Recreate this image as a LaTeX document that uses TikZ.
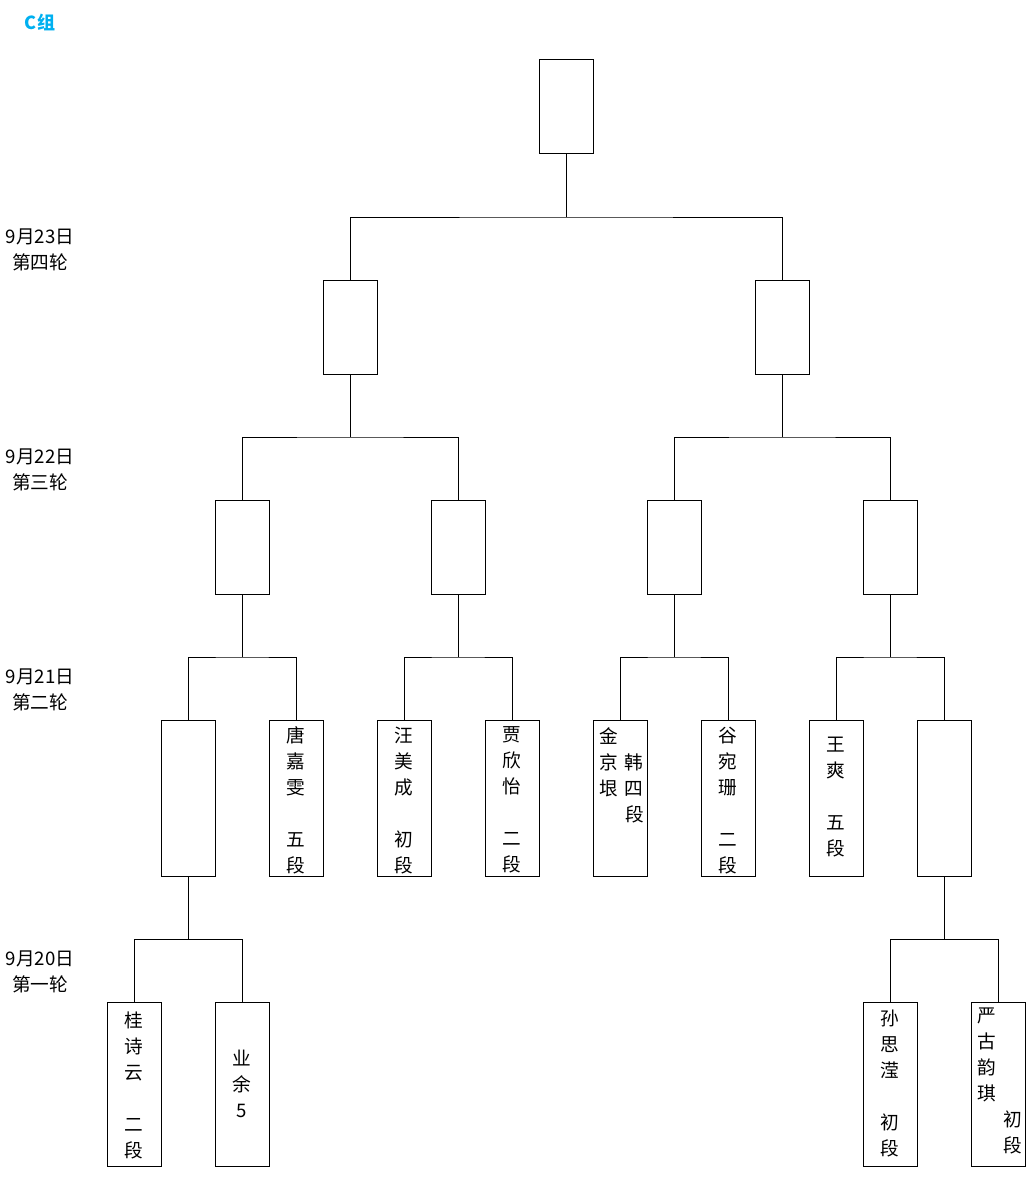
\documentclass[tikz,border=0pt]{standalone}
\usepackage{fontspec}
\newfontfamily\cjk{Noto Sans CJK SC}
\usepackage{tikz}
\usetikzlibrary{positioning}
\definecolor{groupblue}{HTML}{00B0F0}

\begin{document}
\begin{tikzpicture}[x=0.75pt,y=-0.75pt,line width=0.75pt,
  box/.style={draw,inner sep=0pt,minimum width=40.5pt},
  winbox/.style={box,minimum height=70.5pt},
  rtwo/.style={box,minimum height=117pt},
  rone/.style={box,minimum height=123pt},
  player/.style={font=\cjk\fontsize{14}{19.5}\selectfont,inner sep=0pt,align=center},
  datelbl/.style={font=\cjk\fontsize{14}{19.5}\selectfont,inner sep=0pt,align=center}]
\useasboundingbox (0,0) rectangle (1035,1177);
\node[font=\cjk\bfseries\fontsize{13.5}{16}\selectfont,text=groupblue,inner sep=0pt] (grp) at (40,22) {C组};
% dates
\node[datelbl] (d4) at (40,250) {9月23日\\第四轮};
\node[datelbl] (d3) at (40,470) {9月22日\\第三轮};
\node[datelbl] (d2) at (40,690) {9月21日\\第二轮};
\node[datelbl] (d1) at (40,972) {9月20日\\第一轮};
% boxes
\node[winbox] (final) at (566,107) {};
\node[winbox] (s1) at (350,327) {};
\node[winbox] (s2) at (782,327) {};
\foreach \n/\x in {1/242,2/458,3/674,4/890}
  \node[winbox] (q\n) at (\x,547) {};
\foreach \n/\x in {1/188,2/296,3/404,4/512,5/620,6/728,7/836,8/944}
  \node[rtwo] (r\n) at (\x,798) {};
\foreach \n/\x in {1/134,2/242,3/890,4/998}
  \node[rone] (f\n) at (\x,1084) {};
% names
\node[player,below=5pt of r2.north] (p2) {唐\\嘉\\雯\\~\\五\\段};
\node[player,below=5pt of r3.north] (p3) {汪\\美\\成\\~\\初\\段};
\node[player,below=5pt of r4.north] (p4) {贾\\欣\\怡\\~\\二\\段};
\node[player,align=left,below right=6pt and 4.5pt of r5.north west] (p5) {金\\京\hspace{5.5pt}韩\\垠\hspace{5.5pt}四\\\hphantom{垠}\hspace{5.5pt}段};
\node[player,below=5pt of r6.north] (p6) {谷\\宛\\珊\\~\\二\\段};
\node[player,below=13pt of r7.north] (p7) {王\\爽\\~\\五\\段};
\node[player,below=7pt of f1.north] (e1) {桂\\诗\\云\\~\\二\\段};
\node[player] (e2) at (f2) {业\\余\\5};
\node[player,below=6pt of f3.north] (e3) {孙\\思\\滢\\~\\初\\段};
\node[player,align=left,below right=4.5pt and 4.5pt of f4.north west] (e4) {严\\古\\韵\\琪\\\hphantom{琪}\hspace{5.5pt}初\\\hphantom{琪}\hspace{5.5pt}段};
% connectors
\foreach \p/\a/\b/\y in {final/s1/s2/217,s1/q1/q2/437,s2/q3/q4/437,
    q1/r1/r2/657,q2/r3/r4/657,q3/r5/r6/657,q4/r7/r8/657,
    r1/f1/f2/939,r8/f3/f4/939}{
  \coordinate (j) at (\p.south |- 0,\y);
  \draw (\p.south) -- (j);
  \draw (\a.north) |- (j) -| (\b.north);
}
\end{tikzpicture}
\end{document}
